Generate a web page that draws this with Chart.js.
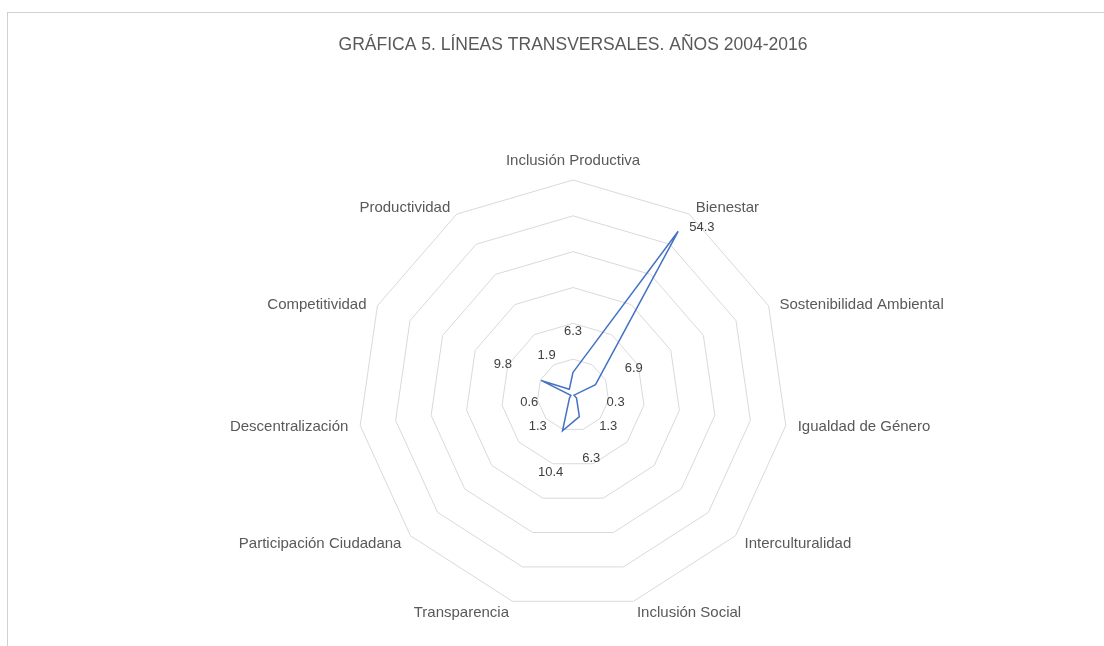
<!DOCTYPE html>
<html>
<head>
<meta charset="utf-8">
<script src="https://cdn.jsdelivr.net/npm/chart.js@4.4.1/dist/chart.umd.min.js"></script>
<style>
html, body { margin: 0; padding: 0; background: #fff; overflow: hidden; }
#frame { position: absolute; left: 7px; top: 12px; width: 1200px; height: 700px;
         border-left: 1px solid #d0d0d0; border-top: 1px solid #d0d0d0; }
#myChart { position: absolute; left: 0; top: 0; }
</style>
</head>
<body>
<div id="frame"></div>
<canvas id="myChart" width="1104" height="646"></canvas>
<script>
// categories, clockwise from the top
const categories = [
    'Inclusión Productiva', 'Bienestar', 'Sostenibilidad Ambiental', 'Igualdad de Género',
    'Interculturalidad', 'Inclusión Social', 'Transparencia', 'Participación Ciudadana',
    'Descentralización', 'Competitividad', 'Productividad'
];
// percentages 2004-2016
const values = [6.3, 54.3, 6.9, 0.3, 1.3, 6.3, 10.4, 1.3, 0.6, 9.8, 1.9];
const scaleMax = 60;
const scaleStep = 10;

const labelFont = '15px "Liberation Sans", Arial, sans-serif';

// category names, Excel style: vertically centred on the spoke end
const categoryLabels = {
    id: 'categoryLabels',
    afterDraw(chart) {
        const ctx = chart.ctx;
        const scale = chart.scales.r;
        ctx.save();
        ctx.font = labelFont;
        ctx.fillStyle = '#595959';
        ctx.textBaseline = 'middle';
        categories.forEach(function(name, i) {
            const a = scale.getIndexAngle(i);
            const pos = scale.getPointPosition(i, scale.drawingArea + 12);
            const s = Math.sin(a);
            let y = pos.y;
            if (Math.abs(s) < 0.05) {
                ctx.textAlign = 'center';
                y -= 7; // top label sits above the vertex
            } else {
                ctx.textAlign = s > 0 ? 'left' : 'right';
                if (Math.cos(a) > 0.1) y += 4;
            }
            ctx.fillText(name, pos.x, y);
        });
        ctx.restore();
    }
};

// value labels: pushed out along the spoke, big one sits to the right of its point
const valueLabels = {
    id: 'valueLabels',
    afterDatasetsDraw(chart) {
        const ctx = chart.ctx;
        const scale = chart.scales.r;
        ctx.save();
        ctx.font = '13px "Liberation Sans", Arial, sans-serif';
        ctx.fillStyle = '#404040';
        ctx.textBaseline = 'middle';
        values.forEach(function(v, i) {
            let pos;
            if (v > scaleMax / 2) {
                pos = scale.getPointPositionForValue(i, v);
                ctx.textAlign = 'left';
                ctx.fillText(v.toFixed(1), pos.x + 11, pos.y - 4);
            } else {
                pos = scale.getPointPosition(i, scale.getDistanceFromCenterForValue(v) + 42);
                ctx.textAlign = 'center';
                ctx.fillText(v.toFixed(1), pos.x, pos.y + 1);
            }
        });
        ctx.restore();
    }
};

const data = {
    labels: categories,
    datasets: [{
        label: 'Líneas transversales',
        data: values,
        borderColor: '#4472C4',
        backgroundColor: 'rgba(0,0,0,0)',
        borderWidth: 1.5,
        pointRadius: 0,
        fill: false,
        tension: 0
    }]
};

const config = {
    type: 'radar',
    data: data,
    options: {
        responsive: false,
        animation: false,
        layout: { padding: { top: 0, bottom: 36, left: 42, right: 0 } },
        plugins: {
            legend: { display: false },
            tooltip: { enabled: false },
            title: {
                display: true,
                text: 'GRÁFICA 5. LÍNEAS TRANSVERSALES. AÑOS 2004-2016',
                color: '#595959',
                font: { family: '"Liberation Sans", Arial, sans-serif', size: 17.5, weight: 'normal' },
                padding: { top: 35, bottom: 124 }
            }
        },
        scales: {
            r: {
                min: 0,
                max: scaleMax,
                ticks: { display: false, stepSize: scaleStep },
                angleLines: { display: false },
                grid: { color: '#d9d9d9', lineWidth: 1 },
                pointLabels: { display: false }
            }
        }
    },
    plugins: [valueLabels, categoryLabels]
};

const myChart = new Chart(document.getElementById('myChart'), config);
</script>
</body>
</html>
